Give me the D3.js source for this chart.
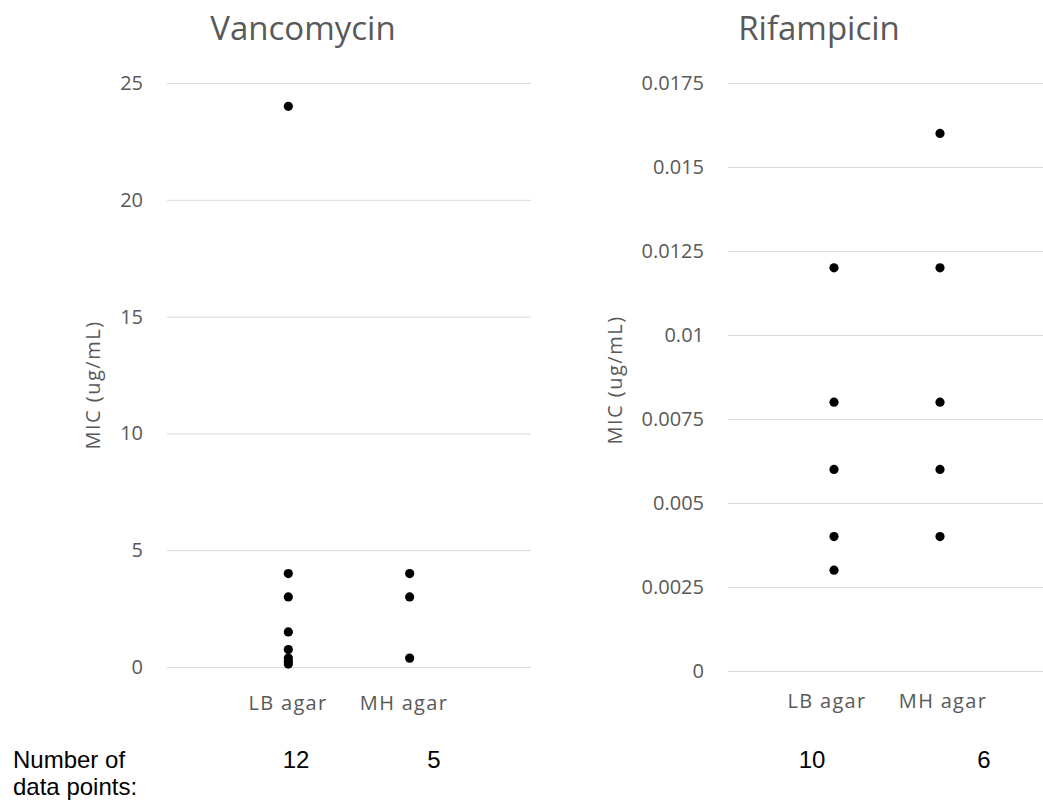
<!DOCTYPE html>
<html>
<head>
<meta charset="utf-8">
<script src="https://cdn.jsdelivr.net/npm/d3@7"></script>
<style>
  body { margin: 0; background: #fff; }
  svg text { font-family: "Open Sans", sans-serif; }
  .grid line { stroke: #d9d9d9; stroke-width: 1; }
  .grid path { display: none; }
  .ticks text { fill: #595959; font-size: 20px; font-family: "Open Sans", sans-serif; }
  .ticks path, .ticks line { display: none; }
  svg text.foot { font-family: "Liberation Sans", Arial, sans-serif; font-size: 24px; fill: #000; }
</style>
</head>
<body>
<svg width="1043" height="803"></svg>
<script>
// categories, plotted at x = 1 and x = 2
var categories = ["LB agar", "MH agar"];

// vancomycin MIC values (ug/mL)
var vancoLB = [24, 4, 3, 1.5, 0.75, 0.38, 0.25, 0.125];
var vancoMH = [4, 3, 0.38];
var vancoTicks = [0, 5, 10, 15, 20, 25];
var vancoCounts = [12, 5];

// rifampicin MIC values (ug/mL)
var rifLB = [0.012, 0.008, 0.006, 0.004, 0.003];
var rifMH = [0.016, 0.012, 0.008, 0.006, 0.004];
var rifTicks = [0, 0.0025, 0.005, 0.0075, 0.01, 0.0125, 0.015, 0.0175];
var rifCounts = [10, 6];

var svg = d3.select("svg");

function panel(opt) {
  var x = d3.scaleLinear().domain([0, 3]).range([opt.left, opt.right]);
  var y = d3.scaleLinear().domain([0, opt.max]).range([opt.bottom, opt.top]);

  // gridlines
  svg.append("g")
    .attr("class", "grid")
    .attr("transform", "translate(" + opt.left + ",0)")
    .call(d3.axisLeft(y).tickValues(opt.ticks).tickSize(-(opt.right - opt.left)).tickFormat(""));

  // tick labels
  svg.append("g")
    .attr("class", "ticks")
    .attr("transform", "translate(" + opt.left + ",0)")
    .call(d3.axisLeft(y).tickValues(opt.ticks).tickSize(0).tickPadding(24).tickFormat(function(d) { return String(+d.toFixed(5)); }));

  // points
  var pts = [];
  opt.series.forEach(function(s, i) {
    s.forEach(function(v) { pts.push({ c: i + 1, v: v }); });
  });
  svg.append("g").selectAll("circle")
    .data(pts)
    .enter().append("circle")
      .attr("cx", function(d) { return x(d.c); })
      .attr("cy", function(d) { return y(d.v); })
      .attr("r", 4.6)
      .attr("fill", "#000");

  // title
  svg.append("text")
    .attr("x", opt.titleX)
    .attr("y", 40)
    .attr("text-anchor", "middle")
    .attr("fill", "#595959")
    .style("font-size", "33px")
    .text(opt.title);

  // y label
  svg.append("text")
    .attr("transform", "translate(" + opt.ylabX + "," + opt.ylabY + ") rotate(-90)")
    .attr("text-anchor", "middle")
    .attr("fill", "#595959")
    .style("font-size", "20px")
    .style("letter-spacing", "1.5px")
    .text("MIC (ug/mL)");

  // category labels
  svg.append("g").selectAll("text")
    .data(categories)
    .enter().append("text")
      .attr("x", function(d, i) { return opt.catX[i]; })
      .attr("y", opt.catY)
      .attr("text-anchor", "middle")
      .attr("fill", "#595959")
      .style("font-size", "20px")
      .style("letter-spacing", "1.3px")
      .text(function(d) { return d; });

  // counts
  svg.append("g").selectAll("text")
    .data(opt.counts)
    .enter().append("text")
      .attr("class", "foot")
      .attr("x", function(d, i) { return opt.countX[i]; })
      .attr("y", 768)
      .attr("text-anchor", "middle")
      .text(function(d) { return d; });
}

panel({
  title: "Vancomycin", titleX: 303,
  left: 167, right: 531, top: 83, bottom: 667, max: 25,
  ticks: vancoTicks, ylabX: 100, ylabY: 385,
  series: [vancoLB, vancoMH], counts: vancoCounts,
  catX: [288, 404], catY: 710, countX: [296, 434]
});

panel({
  title: "Rifampicin", titleX: 819,
  left: 728, right: 1046, top: 83, bottom: 671, max: 0.0175,
  ticks: rifTicks, ylabX: 622, ylabY: 380,
  series: [rifLB, rifMH], counts: rifCounts,
  catX: [827, 943], catY: 708, countX: [812, 984]
});

var foot = svg.append("text").attr("class", "foot").attr("x", 13).attr("y", 768);
foot.append("tspan").attr("x", 13).text("Number of");
foot.append("tspan").attr("x", 13).attr("dy", 27).text("data points:");
</script>
</body>
</html>
